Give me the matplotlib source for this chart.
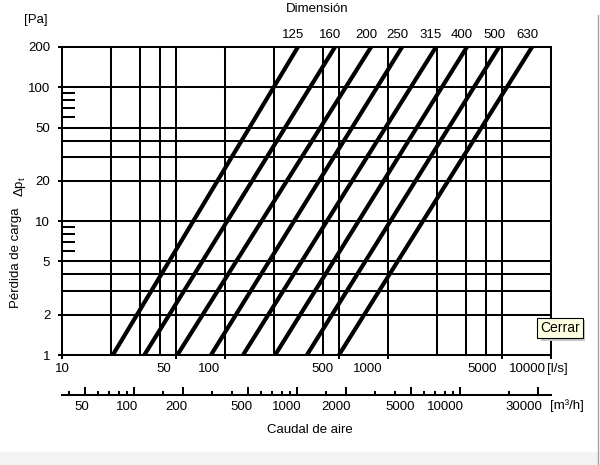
import numpy as np
import matplotlib
matplotlib.use('Agg')
import matplotlib.pyplot as plt
from matplotlib.transforms import ScaledTranslation, offset_copy
from matplotlib.lines import Line2D
from matplotlib.patches import Rectangle

plt.rcParams['font.family'] = ['Liberation Sans', 'DejaVu Sans']

# duct dimensions and where each line meets dp=1 Pa and dp=200 Pa (l/s)
dims = ['125', '160', '200', '250', '315', '400', '500', '630']
q_at_1pa = [20.5, 32, 51, 82, 129, 203, 318, 500]
q_at_200pa = [280, 473, 787, 1220, 1970, 3050, 4800, 7650]
dp_ends = [1, 200]

# grid
x_grid = [20, 30, 40, 50, 100, 200, 400, 500, 1000, 2000, 3000, 4000, 5000]
y_grid = [2, 3, 4, 5, 10, 20, 30, 40, 50, 100]
y_major = [1, 2, 5, 10, 20, 50, 100, 200]
y_short = [6, 7, 8, 9, 60, 70, 80, 90]
x_major = [10, 50, 100, 500, 1000, 5000, 10000]

# second scale in m3/h
m3h_major = [50, 100, 200, 500, 1000, 2000, 5000, 10000, 30000]
m3h_minor = [40, 60, 70, 80, 90, 150, 300, 400, 600, 700, 800, 900,
             1500, 3000, 4000, 6000, 7000, 8000, 9000, 20000]

LW = 1.45
FS = 9.5

fig = plt.figure(figsize=(6.0, 4.65), dpi=100)
W, H = 600, 465
ax = fig.add_axes([62 / W, 1 - 355 / H, (551 - 62) / W, (355 - 47) / H])
ax.set_xscale('log'); ax.set_yscale('log')
ax.set_xlim(10, 10000); ax.set_ylim(1, 200)

for xv in x_grid:
    ax.axvline(xv, color='black', lw=LW)
for yv in y_grid:
    ax.axhline(yv, color='black', lw=LW)

for lo, hi in zip(q_at_1pa, q_at_200pa):
    ax.plot([lo, hi], dp_ends, color='black', lw=3.0, solid_capstyle='butt')

for sp in ax.spines.values():
    sp.set_linewidth(LW)

ax.set_yticks(y_major)
ax.set_yticklabels([str(v) for v in y_major])
ax.set_yticks(y_short, minor=True)
ax.yaxis.set_minor_formatter(plt.NullFormatter())
ax.set_xticks(x_major)
ax.set_xticklabels([str(v) for v in x_major])
ax.xaxis.set_minor_locator(plt.NullLocator())
ax.tick_params(axis='y', which='major', direction='out', length=3, width=LW,
               pad=5.5, labelsize=FS)
ax.tick_params(axis='y', which='minor', direction='in', length=9.5, width=LW)
ax.tick_params(axis='x', which='major', direction='out', length=3, width=LW,
               pad=2.5, labelsize=FS)
for lab in ax.get_xticklabels():
    if lab.get_text() != '10':
        lab.set_ha('right')
        lab.set_transform(lab.get_transform() + ScaledTranslation(-5 / 100, 0, fig.dpi_scale_trans))

# dimension labels above the lines
for d, hi in zip(dims, q_at_200pa):
    ax.annotate(d, (hi, 200), xytext=(-5, 12), textcoords='offset pixels',
                ha='center', va='center', fontsize=FS, annotation_clip=False)

ax.text(1, 0, '[l/s]', transform=offset_copy(ax.transAxes, fig=fig, x=-4, y=-14, units='dots'),
        ha='left', va='center', fontsize=FS)

# m3/h scale
ax2 = fig.add_axes([62 / W, 1 - 395 / H, (551 - 62) / W, 0.0001])
ax2.set_xscale('log')
ax2.set_xlim(36, 36000)
for s in ['top', 'left', 'right']:
    ax2.spines[s].set_visible(False)
ax2.spines['bottom'].set_linewidth(LW)
ax2.set_yticks([])
ax2.set_xticks(m3h_major)
ax2.set_xticklabels([str(v) for v in m3h_major])
ax2.set_xticks(m3h_minor, minor=True)
ax2.xaxis.set_minor_formatter(plt.NullFormatter())
ax2.tick_params(axis='x', which='major', direction='in', length=6, width=LW,
                pad=4, labelsize=FS)
ax2.tick_params(axis='x', which='minor', direction='in', length=3, width=LW)
for lab in ax2.get_xticklabels():
    lab.set_ha('right')
    lab.set_transform(lab.get_transform() + ScaledTranslation(4 / 100, 0, fig.dpi_scale_trans))
ax2.text(1, 0, '[m³/h]', transform=offset_copy(ax2.transAxes, fig=fig, x=-1, y=-11, units='dots'),
         ha='left', va='center', fontsize=FS)

# labels
fig.text(317 / W, 1 - 9 / H, 'Dimensión', ha='center', va='center', fontsize=FS)
fig.text(36 / W, 1 - 20 / H, '[Pa]', ha='center', va='center', fontsize=FS)
fig.text(16 / W, 1 - 258 / H, 'Pérdida de carga', rotation=90, ha='center', va='center', fontsize=FS)
fig.text(20 / W, 1 - 187 / H, r'Δp$_\mathregular{t}$', rotation=90, ha='center', va='center', fontsize=FS)
fig.text(310 / W, 1 - 430 / H, 'Caudal de aire', ha='center', va='center', fontsize=FS)

# tooltip with soft shadow
fig.add_artist(Rectangle((541 / W, 1 - 341 / H), 44 / W, 21 / H, transform=fig.transFigure,
                         color='#c8c8c8', lw=0, zorder=5))
fig.text(560 / W, 1 - 328 / H, 'Cerrar', ha='center', va='center', fontsize=FS + 0.5,
         bbox=dict(boxstyle='square,pad=0.25', fc='#ffffe1', ec='black', lw=0.8), zorder=6)

# page frame
fig.add_artist(Rectangle((0, 0), 598 / W, 13 / H, transform=fig.transFigure,
                         color='#f3f3f3', lw=0, zorder=-1))
fig.add_artist(Line2D([598 / W, 598 / W], [0, 1 - 15 / H], transform=fig.transFigure,
                      color='#a0a0a0', lw=1))

fig.savefig('out.png', dpi=100)
